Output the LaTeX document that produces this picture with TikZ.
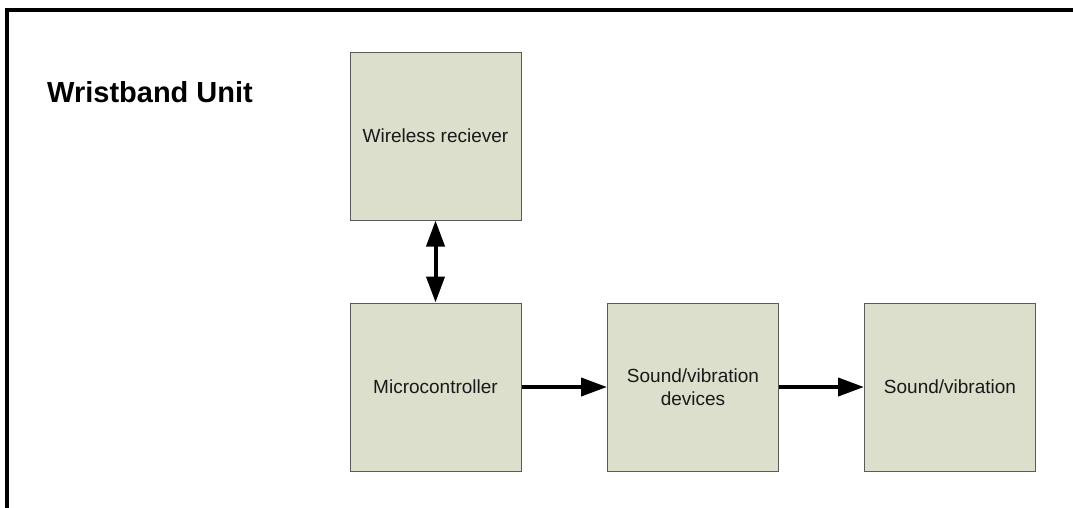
\documentclass[tikz,border=0pt]{standalone}
\usepackage{fontspec}
\setmainfont{Liberation Sans}
\usetikzlibrary{arrows.meta}
\definecolor{boxfill}{HTML}{DCDFCB}
\definecolor{boxline}{HTML}{5A5A5A}
\tikzset{
  block/.style={draw=boxline, line width=1pt, fill=boxfill,
    minimum width=171pt, minimum height=168pt, inner sep=0pt,
    align=center, font=\fontsize{19}{23}\selectfont, text=black!90},
  flow/.style={line width=4pt, -{Triangle[length=26pt,width=18pt]}},
  biflow/.style={line width=4pt, {Triangle[length=26pt,width=18pt]}-{Triangle[length=26pt,width=18pt]}},
  frame/.style={line width=4pt, black}
}
\begin{document}
\begin{tikzpicture}[x=1pt,y=-1pt]
  \useasboundingbox (0,0) rectangle (1073,507);
  \fill[white] (0,0) rectangle (1073,507);

  % outer frame (open at bottom and right)
  \coordinate (fb) at (6.5,510);
  \coordinate (fc) at (6.5,9.5);
  \coordinate (fr) at (1076,9.5);
  \draw[frame] (fb) -- (fc) -- (fr);

  % title
  \node[anchor=base west, inner sep=0pt, font=\bfseries\fontsize{29}{33}\selectfont]
    (title) at (47,102) {Wristband Unit};

  % blocks
  \node[block] (rx)  at (435.5,136) {Wireless reciever};
  \node[block] (mcu) at (435.5,387) {Microcontroller};
  \node[block] (dev) at (693,387)   {Sound/vibration\\devices};
  \node[block] (out) at (950,387)   {Sound/vibration};

  % connectors
  \draw[biflow] (rx.south) -- (mcu.north);
  \draw[flow] (mcu.east) -- (dev.west);
  \draw[flow] (dev.east) -- (out.west);
\end{tikzpicture}
\end{document}
